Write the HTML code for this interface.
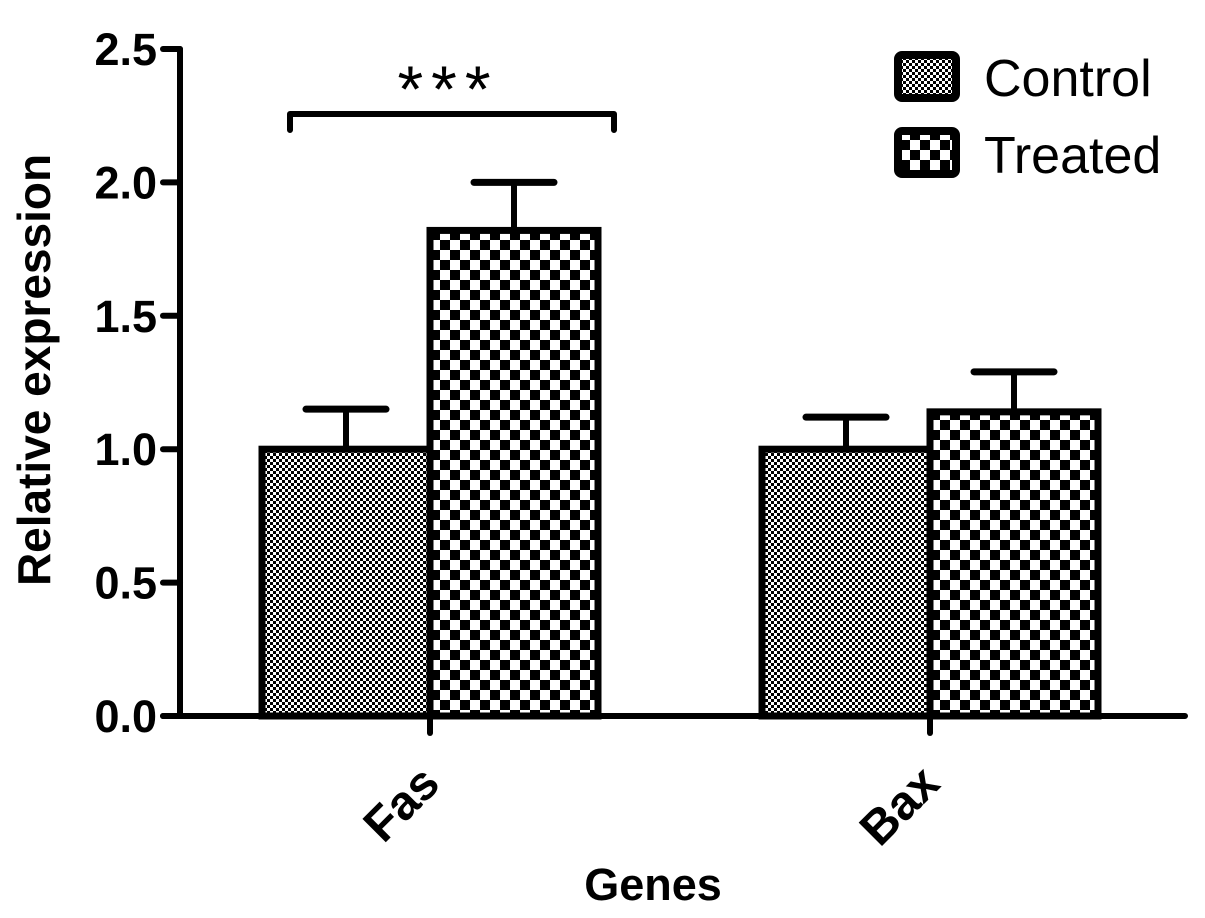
<!DOCTYPE html>
<html><head><meta charset="utf-8"><style>
body{margin:0;background:#fff}
svg{display:block;font-family:"Liberation Sans",Arial,sans-serif}
</style></head><body>
<svg id="c" width="1205" height="918" viewBox="0 0 1205 918">
<defs>
<pattern id="pc" width="6" height="6" patternUnits="userSpaceOnUse"><rect width="6" height="6" fill="#fff"/><rect width="3" height="3" fill="#000"/><rect x="3" y="3" width="3" height="3" fill="#000"/></pattern>
<pattern id="pt" width="20" height="20" patternUnits="userSpaceOnUse"><rect width="20" height="20" fill="#fff"/><rect width="10" height="10" fill="#000"/><rect x="10" y="10" width="10" height="10" fill="#000"/></pattern>
</defs>
<g id="bars"></g>
<g id="axes"></g>
</svg>
<script>
const categories=["Fas","Bax"];
const controlValues=[1.0,1.0];
const controlErr=[1.15,1.12];
const treatedValues=[1.82,1.14];
const treatedErr=[2.0,1.29];
const yTicks=[0,0.5,1.0,1.5,2.0,2.5];
const yTickLabels=["0.0","0.5","1.0","1.5","2.0","2.5"];

const NS="http://www.w3.org/2000/svg";
const y0=716, yTop=49, yMax=2.5;
const y=v=>y0-(v/yMax)*(y0-yTop);
const groupCenters=[430,930], bw=168;
function mk(t,a,p){const e=document.createElementNS(NS,t);for(const k in a)e.setAttribute(k,a[k]);p.appendChild(e);return e;}
const bars=document.getElementById('bars'), axes=document.getElementById('axes');
categories.forEach((c,i)=>{
  const cx=groupCenters[i];
  [[controlValues,controlErr,'url(#pc)',cx-bw,'control'],[treatedValues,treatedErr,'url(#pt)',cx,'treated']].forEach(([vals,errs,fill,x,s])=>{
    const ex=x+bw/2;
    const el=mk('line',{x1:ex,x2:ex,y1:y(vals[i]),y2:y(errs[i]),stroke:'#000','stroke-width':6},bars);
    
    
    const cap=mk('line',{x1:ex-40,x2:ex+40,y1:y(errs[i]),y2:y(errs[i]),stroke:'#000','stroke-width':7,'stroke-linecap':'round'},bars);
    
    
    const r=mk('rect',{x:x,y:y(vals[i]),width:bw,height:y0-y(vals[i]),fill:fill,stroke:'#000','stroke-width':7},bars);
    
    
  });
  const tk=mk('line',{x1:cx,x2:cx,y1:y0,y2:y0+17,stroke:'#000','stroke-width':6,'stroke-linecap':'round'},axes);
  
  
  const ax0=cx+12, ay0=y0+70;
  const tl=mk('text',{x:ax0,y:ay0,'font-size':48,'font-weight':'bold','text-anchor':'end',transform:`rotate(-45 ${ax0} ${ay0})`},axes);
  tl.textContent=c;
  
  
});
const ax=mk('path',{d:`M180 ${yTop} V${y0} M163 ${y0} H1185`,stroke:'#000','stroke-width':6,fill:'none','stroke-linecap':'round'},axes);


yTicks.forEach((t,i)=>{
  const l=mk('line',{x1:163,x2:180,y1:y(t),y2:y(t),stroke:'#000','stroke-width':6,'stroke-linecap':'round'},axes);
  
  
  const tx=mk('text',{x:157,y:y(t)+16,'font-size':45,'font-weight':'bold','text-anchor':'end'},axes);
  tx.textContent=yTickLabels[i];
  
  
});
</script>
<svg style="position:absolute;left:0;top:0" width="1205" height="918">
<text x="50" y="370" transform="rotate(-90 50 370)" text-anchor="middle" font-size="46" font-weight="bold" font-family="Liberation Sans,sans-serif">Relative expression</text>
<text x="653" y="900" text-anchor="middle" font-size="45" font-weight="bold" font-family="Liberation Sans,sans-serif">Genes</text>
<path d="M290 130 V114 H614 V130" fill="none" stroke="#000" stroke-width="6" stroke-linejoin="round" stroke-linecap="round"/>
<text x="448" y="112" text-anchor="middle" font-size="66" font-family="Liberation Sans,sans-serif" letter-spacing="8">***</text>
<rect x="898" y="55" width="58" height="43" rx="4" fill="url(#pc)" stroke="#000" stroke-width="8"/>
<text x="984" y="96" font-size="52" font-family="Liberation Sans,sans-serif">Control</text>
<rect x="898" y="131" width="58" height="43" rx="4" fill="url(#pt)" stroke="#000" stroke-width="8"/>
<text x="984" y="173" font-size="52" font-family="Liberation Sans,sans-serif">Treated</text>
</svg>
</body></html>
